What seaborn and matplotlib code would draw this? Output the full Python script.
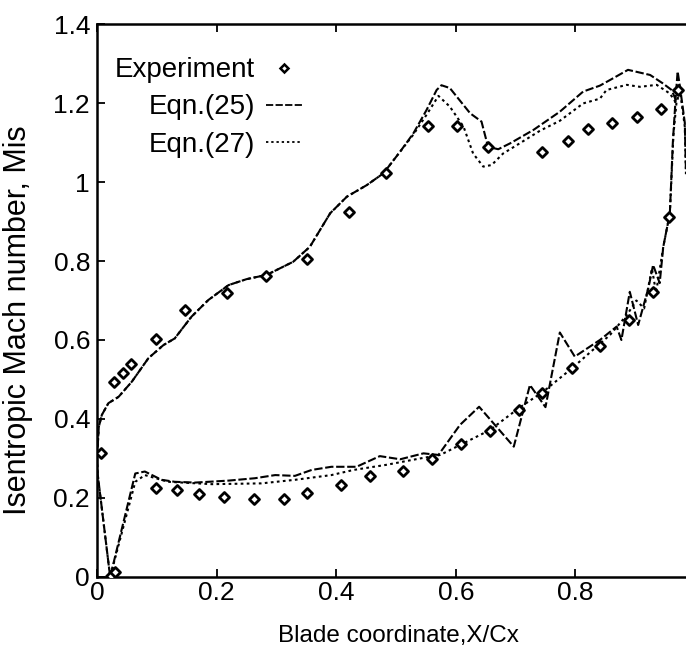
import numpy as np
import pandas as pd
import seaborn as sns
import matplotlib
matplotlib.use("Agg")
import matplotlib.pyplot as plt
from matplotlib.lines import Line2D

# experiment (suction side then pressure side)
exp_x = [0.007, 0.028, 0.043, 0.057, 0.098, 0.147, 0.218, 0.283, 0.352, 0.422, 0.483,
         0.553, 0.602, 0.654, 0.745, 0.787, 0.821, 0.862, 0.903, 0.944, 0.971,
         0.023, 0.030, 0.099, 0.134, 0.171, 0.212, 0.262, 0.312, 0.352, 0.408, 0.457,
         0.512, 0.561, 0.609, 0.658, 0.705, 0.745, 0.794, 0.841, 0.890, 0.930, 0.957]
exp_y = [0.313, 0.494, 0.517, 0.539, 0.602, 0.676, 0.718, 0.763, 0.804, 0.923, 1.024,
         1.142, 1.142, 1.089, 1.075, 1.104, 1.133, 1.150, 1.164, 1.185, 1.233,
         0.003, 0.012, 0.225, 0.219, 0.210, 0.203, 0.197, 0.197, 0.212, 0.233, 0.256,
         0.269, 0.299, 0.337, 0.370, 0.424, 0.467, 0.528, 0.586, 0.651, 0.722, 0.911]

# Eqn.(25)
up25_x = [0.0, 0.003, 0.008, 0.019, 0.036, 0.058, 0.086, 0.111, 0.130, 0.158, 0.186, 0.220,
          0.250, 0.284, 0.328, 0.356, 0.390, 0.418, 0.451, 0.479, 0.507, 0.529, 0.551, 0.568,
          0.576, 0.590, 0.624, 0.643, 0.654, 0.671, 0.691, 0.730, 0.774, 0.813, 0.841, 0.860,
          0.888, 0.925, 0.946, 0.961, 0.970]
up25_y = [0.30, 0.38, 0.41, 0.44, 0.456, 0.494, 0.554, 0.587, 0.604, 0.659, 0.701, 0.739,
          0.754, 0.765, 0.798, 0.836, 0.921, 0.963, 0.992, 1.022, 1.077, 1.123, 1.182, 1.233,
          1.245, 1.238, 1.174, 1.153, 1.089, 1.083, 1.098, 1.132, 1.178, 1.229, 1.244, 1.260,
          1.284, 1.271, 1.250, 1.233, 1.200]
lo25_x = [0.0, 0.001, 0.022, 0.064, 0.080, 0.108, 0.130, 0.164, 0.220, 0.264, 0.298, 0.331,
          0.359, 0.392, 0.434, 0.473, 0.507, 0.546, 0.571, 0.607, 0.639, 0.697, 0.724, 0.750,
          0.774, 0.799, 0.841, 0.869, 0.877, 0.891, 0.905, 0.922, 0.930, 0.941, 0.947, 0.958,
          0.963, 0.968, 0.971, 0.975, 0.983, 0.985]
lo25_y = [0.30, 0.262, 0.0, 0.262, 0.267, 0.246, 0.241, 0.239, 0.244, 0.250, 0.258, 0.256,
          0.271, 0.279, 0.279, 0.306, 0.298, 0.313, 0.309, 0.385, 0.431, 0.330, 0.486, 0.430,
          0.619, 0.558, 0.600, 0.634, 0.600, 0.722, 0.638, 0.731, 0.790, 0.744, 0.836, 0.921,
          1.100, 1.220, 1.280, 1.240, 1.150, 1.020]

# Eqn.(27)
up27_x = [0.0, 0.003, 0.008, 0.019, 0.036, 0.058, 0.086, 0.111, 0.130, 0.158, 0.186, 0.220,
          0.250, 0.284, 0.328, 0.356, 0.390, 0.418, 0.451, 0.479, 0.507, 0.529, 0.551, 0.571,
          0.590, 0.613, 0.629, 0.646, 0.660, 0.679, 0.707, 0.741, 0.774, 0.813, 0.841, 0.852,
          0.886, 0.908, 0.936, 0.958, 0.969]
up27_y = [0.30, 0.38, 0.41, 0.44, 0.456, 0.494, 0.554, 0.587, 0.604, 0.659, 0.701, 0.739,
          0.754, 0.765, 0.798, 0.836, 0.921, 0.963, 0.992, 1.022, 1.077, 1.120, 1.170, 1.218,
          1.191, 1.140, 1.072, 1.039, 1.043, 1.072, 1.098, 1.130, 1.155, 1.199, 1.211, 1.233,
          1.246, 1.241, 1.246, 1.224, 1.199]
lo27_x = [0.0, 0.001, 0.022, 0.064, 0.080, 0.119, 0.192, 0.275, 0.331, 0.392, 0.429, 0.484,
          0.540, 0.574, 0.607, 0.657, 0.705, 0.746, 0.794, 0.858, 0.886, 0.902, 0.915, 0.928,
          0.935, 0.947, 0.958, 0.964, 0.969, 0.975, 0.983, 0.985]
lo27_y = [0.30, 0.262, 0.0, 0.241, 0.258, 0.241, 0.235, 0.237, 0.246, 0.258, 0.271, 0.284,
          0.300, 0.309, 0.334, 0.372, 0.427, 0.469, 0.528, 0.613, 0.663, 0.700, 0.680, 0.781,
          0.720, 0.836, 0.920, 1.120, 1.200, 1.230, 1.140, 1.020]

x_ticks = [0, 0.2, 0.4, 0.6, 0.8]
x_labels = ["0", "0.2", "0.4", "0.6", "0.8"]
y_ticks = [0, 0.2, 0.4, 0.6, 0.8, 1.0, 1.2, 1.4]
y_labels = ["0", "0.2", "0.4", "0.6", "0.8", "1", "1.2", "1.4"]

sns.set_style("ticks")
plt.rcParams['font.family'] = ['Liberation Sans', 'DejaVu Sans']
plt.rcParams.update({"text.color": "black", "axes.labelcolor": "black",
                     "xtick.color": "black", "ytick.color": "black",
                     "axes.edgecolor": "black"})

fig = plt.figure(figsize=(6.86, 6.51), dpi=100)
ax = fig.add_axes([0.1414, 0.1137, 0.8586, 0.8494])

dash25 = (0, (4, 1.3))
dot27 = (0, (1.3, 1.6))
for xs, ys, ls in [(up25_x, up25_y, dash25), (lo25_x, lo25_y, dash25),
                   (up27_x, up27_y, dot27), (lo27_x, lo27_y, dot27)]:
    sns.lineplot(x=xs, y=ys, sort=False, estimator=None, color="black",
                 linestyle=ls, linewidth=1.5, ax=ax)

sns.scatterplot(x=exp_x, y=exp_y, marker="D", s=26, facecolor="white",
                edgecolor="black", linewidth=2.0, ax=ax, zorder=5)

ax.set_xlim(0, 0.985)
ax.set_ylim(0, 1.4)
ax.set_xticks(x_ticks)
ax.set_xticklabels(x_labels)
ax.set_yticks(y_ticks)
ax.set_yticklabels(y_labels)
ax.tick_params(direction="in", length=6, width=1.3, labelsize=19, top=True, right=False)
ax.tick_params(axis="x", pad=3)
ax.tick_params(axis="y", pad=5)
for s in ["left", "bottom", "top"]:
    ax.spines[s].set_linewidth(1.8)
ax.spines["right"].set_visible(False)

ax.set_xlabel("Blade coordinate,X/Cx", fontsize=17.5)
ax.set_ylabel("Isentropic Mach number, Mis", fontsize=22)
ax.xaxis.set_label_coords(0.511, -0.086)
ax.yaxis.set_label_coords(-0.108, 0.465)

handles = [
    Line2D([], [], marker="D", markersize=4.5, markerfacecolor="white",
           markeredgecolor="black", markeredgewidth=1.8, linestyle="none"),
    Line2D([], [], color="black", linestyle=dash25, linewidth=1.3),
    Line2D([], [], color="black", linestyle=dot27, linewidth=1.3),
]
ax.legend(handles, ["Experiment", "Eqn.(25)", "Eqn.(27)"], loc="upper left",
          bbox_to_anchor=(-0.012, 0.985), frameon=False, markerfirst=False,
          handlelength=1.3, labelspacing=0.4, handletextpad=0.4,
          prop={'size': 20})

fig.savefig("out.png", dpi=100)
